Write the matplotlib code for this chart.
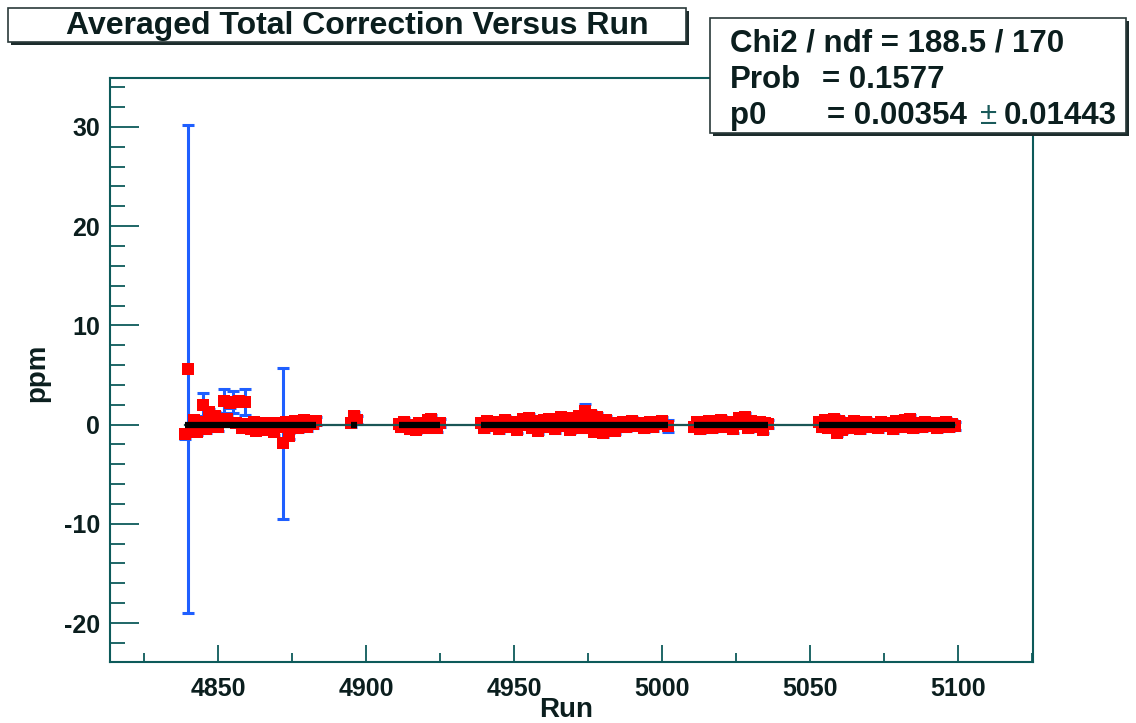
import matplotlib
matplotlib.use("Agg")
import matplotlib.pyplot as plt
from matplotlib.patches import Rectangle
from matplotlib.ticker import MultipleLocator

plt.rcParams['font.family'] = ['Liberation Sans', 'DejaVu Sans']
plt.rcParams['font.weight'] = 'bold'
plt.rcParams['axes.unicode_minus'] = False

# --- data ---
runs = [4839, 4840, 4841, 4842, 4843, 4844, 4845, 4846, 4847, 4848,
        4849, 4850, 4851, 4852, 4853, 4854, 4855, 4856, 4857, 4858,
        4859, 4860, 4861, 4862, 4863, 4864, 4865, 4866, 4867, 4868,
        4869, 4870, 4871, 4872, 4873, 4874, 4875, 4876, 4877, 4878,
        4879, 4880, 4881, 4882, 4883,
        4895, 4896, 4897,
        4911, 4912, 4913, 4915, 4916, 4917, 4918, 4920, 4921, 4922,
        4923, 4924, 4925,
        4939, 4940, 4941, 4942, 4943, 4945, 4946, 4947, 4948, 4950,
        4951, 4952, 4953, 4954, 4955, 4956, 4957, 4958, 4959, 4960,
        4961, 4962, 4963, 4964, 4965, 4966, 4967, 4968, 4969, 4970,
        4971, 4972, 4973, 4974, 4975, 4976, 4977, 4978, 4979, 4980,
        4981, 4982, 4983, 4984, 4985, 4987, 4988, 4990, 4991, 4993,
        4994, 4996, 4997, 4999, 5000, 5002,
        5011, 5012, 5013, 5014, 5016, 5017, 5018, 5020, 5021, 5022,
        5024, 5025, 5026, 5027, 5028, 5029, 5030, 5032, 5033, 5034,
        5035, 5036,
        5053, 5054, 5055, 5056, 5057, 5058, 5059, 5060, 5061, 5062,
        5064, 5065, 5066, 5067, 5069, 5070, 5071, 5073, 5074, 5075,
        5077, 5078, 5079, 5081, 5082, 5083, 5084, 5085, 5086, 5088,
        5089, 5090, 5092, 5093, 5094, 5096, 5097, 5098, 5099]

ppm = [-1.0, 5.6, -0.6, 0.5, -0.7, 0.3, 2.0, -0.4, 1.3, 0.6,
       0.9, -0.2, 0.4, 2.4, 0.6, 2.2, 2.3, 0.2, 2.4, -0.3,
       2.3, 0.1, -0.4, 0.3, -0.6, 0.1, -0.3, 0.2, -0.5, 0.0,
       -0.7, 0.2, -0.2, -1.9, 0.3, -1.2, -0.1, 0.4, -0.3, 0.2,
       0.5, -0.2, 0.3, 0.1, 0.4,
       0.2, 0.9, 0.5,
       0.1, -0.2, 0.3, -0.4, 0.0, -0.5, 0.2, -0.3, 0.5, 0.6,
       0.1, -0.3, 0.2,
       0.2, -0.3, 0.4, -0.1, 0.3, -0.4, 0.1, 0.5, -0.2, 0.3,
       -0.5, 0.2, 0.6, 0.0, 0.7, -0.3, 0.4, -0.6, 0.2, 0.5,
       -0.2, 0.6, 0.1, -0.4, 0.3, 0.8, -0.1, 0.4, -0.5, 0.7,
       0.2, 0.9, -0.3, 1.4, 0.6, 1.0, -0.7, 0.8, 0.3, -0.9,
       0.5, -0.4, 0.2, -0.6, 0.1, 0.3, -0.2, 0.4, -0.1, 0.2,
       -0.3, 0.3, -0.2, 0.1, 0.4, -0.1,
       -0.2, 0.3, -0.4, 0.1, 0.4, -0.3, 0.2, 0.5, -0.2, 0.3,
       -0.4, 0.1, 0.7, 0.2, 0.8, -0.3, 0.4, -0.2, 0.3, -0.5,
       0.2, 0.1,
       0.3, -0.2, 0.5, -0.3, 0.1, 0.6, -0.8, 0.4, -0.5, 0.2,
       -0.3, 0.4, 0.0, -0.4, 0.3, -0.2, 0.1, -0.3, 0.3, -0.1,
       0.2, -0.4, 0.4, -0.2, 0.5, 0.1, 0.6, -0.3, 0.2, -0.2,
       0.3, -0.1, 0.2, -0.3, 0.1, 0.3, -0.2, 0.1, -0.1]

ppm_err = [0.5, 24.6, 0.4, 0.4, 0.4, 0.4, 1.15, 0.4, 0.3, 0.4,
           0.4, 0.4, 0.4, 1.2, 0.4, 0.5, 1.1, 0.4, 0.5, 0.4,
           1.3, 0.4, 0.4, 0.4, 0.4, 0.4, 0.4, 0.4, 0.4, 0.4,
           0.4, 0.4, 0.4, 7.6, 0.4, 0.3, 0.4, 0.4, 0.4, 0.4,
           0.4, 0.4, 0.4, 0.4, 0.4,
           0.4, 0.4, 0.4,
           0.4, 0.4, 0.4, 0.4, 0.4, 0.4, 0.4, 0.4, 0.4, 0.4,
           0.4, 0.4, 0.4,
           0.4, 0.4, 0.4, 0.4, 0.4, 0.4, 0.4, 0.4, 0.4, 0.4,
           0.4, 0.4, 0.4, 0.4, 0.4, 0.4, 0.4, 0.4, 0.4, 0.4,
           0.4, 0.4, 0.4, 0.4, 0.4, 0.4, 0.4, 0.4, 0.4, 0.4,
           0.4, 0.4, 0.4, 0.7, 0.4, 0.4, 0.4, 0.4, 0.4, 0.4,
           0.4, 0.4, 0.4, 0.4, 0.4, 0.4, 0.4, 0.4, 0.4, 0.4,
           0.4, 0.4, 0.4, 0.4, 0.4, 0.6,
           0.4, 0.4, 0.4, 0.4, 0.4, 0.4, 0.4, 0.4, 0.4, 0.4,
           0.4, 0.4, 0.4, 0.4, 0.4, 0.4, 0.4, 0.4, 0.4, 0.4,
           0.4, 0.4,
           0.4, 0.4, 0.4, 0.4, 0.4, 0.4, 0.4, 0.4, 0.4, 0.4,
           0.4, 0.4, 0.4, 0.4, 0.4, 0.4, 0.4, 0.4, 0.4, 0.4,
           0.4, 0.4, 0.4, 0.4, 0.4, 0.4, 0.4, 0.4, 0.4, 0.4,
           0.4, 0.4, 0.4, 0.4, 0.4, 0.4, 0.4, 0.4, 0.4]

# constant fit result
p0 = 0.00354
p0_err = 0.01443
chi2, ndf, prob = 188.5, 170, 0.1577

title = "Averaged Total Correction Versus Run"

W, H = 1136, 723
TXT = '#0b1e1e'
AXC = '#0d5a5a'


def fx(px):
    return px / W


def fy(py):
    return 1 - py / H


fig = plt.figure(figsize=(W / 100, H / 100), dpi=100)
ax = fig.add_axes([fx(110), fy(662), fx(1033) - fx(110), fy(78) - fy(662)])

# error bars first, then markers on top, fit on top of all
ax.errorbar(runs, ppm, yerr=ppm_err, fmt='none', ecolor='#1f5fff',
            elinewidth=2.2, capsize=4, capthick=2.2, zorder=2)
ax.plot(runs, ppm, 's', color='#ff0000', markersize=9.3,
        markeredgewidth=0, zorder=3)

# thin fit line across the whole range, thick where there are data
ax.plot([runs[0], runs[-1]], [p0, p0], color='#1a5656', lw=1.6, zorder=4)
start = runs[0]
for a, b in zip(runs[:-1], runs[1:]):
    if b - a > 5:
        ax.plot([start, a], [p0, p0], color='black', lw=4.5,
                solid_capstyle='butt', zorder=5)
        start = b
ax.plot([start, runs[-1]], [p0, p0], color='black', lw=4.5,
        solid_capstyle='butt', zorder=5)

ax.set_xlim(4813.5, 5125.4)
ax.set_ylim(-23.93, 34.93)
ax.xaxis.set_major_locator(MultipleLocator(50))
ax.xaxis.set_minor_locator(MultipleLocator(25))
ax.yaxis.set_major_locator(MultipleLocator(10))
ax.yaxis.set_minor_locator(MultipleLocator(2))

for s in ax.spines.values():
    s.set_color(AXC)
    s.set_linewidth(1.5)

ax.tick_params(axis='both', which='both', direction='in', color=AXC,
               width=1.3, labelcolor=TXT, labelsize=18,
               top=False, right=False)
ax.tick_params(axis='y', which='major', length=21, pad=7)
ax.tick_params(axis='y', which='minor', length=11)
ax.tick_params(axis='x', which='major', length=12.6, pad=11)
ax.tick_params(axis='x', which='minor', length=6.3)
for lab in ax.get_xticklabels() + ax.get_yticklabels():
    lab.set_fontweight('bold')

fig.text(fx(37), fy(373), "ppm", rotation=90, ha='center', va='center',
         fontsize=20, fontweight='bold', color=TXT)
fig.text(fx(566), fy(710), "Run", ha='center', va='center',
         fontsize=20, fontweight='bold', color=TXT)


def box(x0, y0, x1, y1):
    # ROOT style box with a small dark shadow
    fig.patches.append(Rectangle((fx(x0 + 3), fy(y1 + 3)), fx(x1 - x0), fy(y0) - fy(y1),
                                 transform=fig.transFigure, facecolor='#1c2b2b',
                                 edgecolor='none', zorder=10))
    fig.patches.append(Rectangle((fx(x0), fy(y1)), fx(x1 - x0), fy(y0) - fy(y1),
                                 transform=fig.transFigure, facecolor='white',
                                 edgecolor='#2a3a3a', lw=1.2, zorder=11))


box(8, 8, 686, 42)
fig.text(fx(357), fy(26), title, ha='center', va='center', fontsize=23,
         fontweight='bold', color=TXT, zorder=12)

SZ = 22.5
box(710, 18, 1126, 133)
fig.text(fx(730), fy(51), f"Chi2 / ndf = {chi2} / {ndf}", ha='left',
         va='baseline', fontsize=SZ, fontweight='bold', color=TXT, zorder=12)
fig.text(fx(730), fy(88), "Prob", ha='left', va='baseline', fontsize=SZ,
         fontweight='bold', color=TXT, zorder=12)
fig.text(fx(822), fy(88), f"= {prob}", ha='left', va='baseline', fontsize=SZ,
         fontweight='bold', color=TXT, zorder=12)
fig.text(fx(730), fy(124), "p0", ha='left', va='baseline', fontsize=SZ,
         fontweight='bold', color=TXT, zorder=12)
fig.text(fx(827), fy(124), f"= {p0:.5f}", ha='left', va='baseline', fontsize=SZ,
         fontweight='bold', color=TXT, zorder=12)
fig.text(fx(980), fy(124), "\u00b1", ha='left', va='baseline', fontsize=SZ,
         fontweight='normal', color='#1a5a5a', zorder=12)
fig.text(fx(1004), fy(124), f"{p0_err:.5f}", ha='left', va='baseline', fontsize=SZ,
         fontweight='bold', color=TXT, zorder=12)

fig.savefig("out.png", dpi=100)
